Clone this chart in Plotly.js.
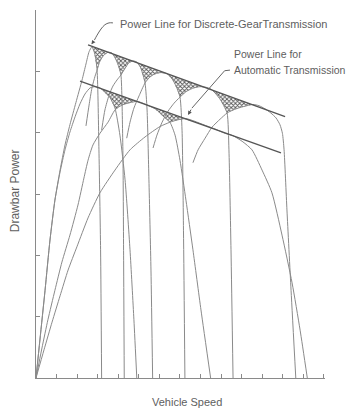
<!DOCTYPE html>
<html><head><meta charset="utf-8">
<script src="https://cdn.plot.ly/plotly-3.0.1.min.js"></script>
<style>html,body{margin:0;padding:0;background:#fff}#chart{width:351px;height:411px}</style>
</head><body><div id="chart"></div>
<script>
// Units: x = vehicle speed (axis tick units), y = drawbar power (axis tick units)
const discreteLineX = [2.53, 12.11];
const discreteLineY = [5.43, 4.26];
const autoLineX = [2.14, 11.91];
const autoLineY = [4.84, 3.67];

// discrete-gear transmission, gears 1..6
const g1X = [0, 0.19, 0.44, 0.68, 0.92, 1.17, 1.41, 1.65, 1.94, 2.24, 2.43, 2.58, 2.72, 2.87, 2.97, 3.06, 3.14, 3.19];
const g1Y = [0, 0.62, 1.43, 2.25, 2.90, 3.39, 3.80, 4.13, 4.49, 4.86, 5.12, 5.32, 5.40, 5.27, 5.02, 3.72, 2.09, 0];
const g2X = [2.43, 2.58, 2.72, 2.87, 2.97, 3.11, 3.31, 3.50, 3.69, 3.89, 4.03, 4.13, 4.18, 4.23, 4.26, 4.29];
const g2Y = [4.11, 4.45, 4.73, 4.92, 5.02, 5.17, 5.27, 5.31, 5.30, 5.19, 5.07, 4.94, 4.53, 3.55, 1.92, 0];
const g3X = [3.19, 3.35, 3.55, 3.74, 3.94, 4.13, 4.33, 4.52, 4.72, 4.91, 5.10, 5.30, 5.40, 5.49, 5.59, 5.67];
const g3Y = [4.04, 4.37, 4.61, 4.76, 4.86, 4.94, 5.05, 5.14, 5.17, 5.15, 5.05, 4.81, 4.37, 3.23, 1.76, 0];
const g4X = [4.41, 4.57, 4.76, 5.01, 5.30, 5.54, 5.79, 6.08, 6.37, 6.61, 6.81, 7.00, 7.10, 7.17, 7.24];
const g4Y = [3.91, 4.17, 4.40, 4.60, 4.81, 4.91, 4.96, 4.98, 4.96, 4.88, 4.76, 4.58, 4.04, 2.41, 0];
const g5X = [5.69, 5.88, 6.13, 6.42, 6.71, 7.00, 7.34, 7.68, 7.97, 8.26, 8.51, 8.80, 9.04, 9.29, 9.38, 9.48, 9.58];
const g5Y = [3.75, 3.96, 4.17, 4.35, 4.48, 4.58, 4.68, 4.73, 4.75, 4.74, 4.71, 4.61, 4.50, 4.32, 3.72, 2.09, 0];
const g6X = [7.63, 7.88, 8.22, 8.56, 8.95, 9.29, 9.58, 9.92, 10.26, 10.55, 10.84, 11.13, 11.42, 11.67, 11.86, 11.98, 12.06, 12.20, 12.40, 12.63];
const g6Y = [3.51, 3.72, 3.91, 4.09, 4.22, 4.32, 4.37, 4.41, 4.44, 4.46, 4.44, 4.39, 4.32, 4.24, 4.13, 3.99, 3.72, 2.74, 1.43, 0];

// automatic transmission, ranges 1..3
const a1X = [0, 0.19, 0.44, 0.68, 0.92, 1.17, 1.41, 1.65, 1.90, 2.14, 2.38, 2.63, 2.87, 3.11, 3.35, 3.60, 3.84, 4.08, 4.33, 4.57, 4.76, 4.90];
const a1Y = [0, 0.62, 1.43, 2.25, 2.90, 3.36, 3.72, 4.01, 4.26, 4.47, 4.63, 4.73, 4.75, 4.73, 4.66, 4.57, 4.40, 3.96, 3.23, 2.09, 0.95, 0];
const a2X = [0, 0.29, 0.58, 0.92, 1.26, 1.65, 2.04, 2.33, 2.53, 2.77, 3.11, 3.50, 3.84, 4.18, 4.57, 4.91, 5.20, 5.54, 5.88, 6.17, 6.51, 6.76, 7.00, 7.29, 7.63, 8.02, 8.49];
const a2Y = [0, 0.49, 0.95, 1.43, 1.89, 2.33, 2.82, 3.26, 3.55, 3.80, 3.99, 4.17, 4.37, 4.45, 4.49, 4.51, 4.48, 4.43, 4.37, 4.27, 4.17, 3.96, 3.55, 2.90, 2.09, 1.11, 0];
const a3X = [0, 0.39, 0.78, 1.17, 1.56, 1.99, 2.53, 3.11, 3.84, 4.57, 5.30, 6.03, 6.51, 6.90, 7.29, 7.68, 8.22, 8.70, 9.19, 9.58, 10.06, 10.50, 10.99, 11.47, 11.96, 12.45, 12.84, 13.19];
const a3Y = [0, 0.46, 0.91, 1.34, 1.76, 2.14, 2.61, 3.02, 3.39, 3.72, 3.93, 4.10, 4.17, 4.21, 4.23, 4.19, 4.12, 4.06, 3.99, 3.95, 3.85, 3.72, 3.39, 3.02, 2.33, 1.55, 0.78, 0];

// labels and leader lines
const label1 = "Power Line for Discrete-GearTransmission";
const label2a = "Power Line for";
const label2b = "Automatic Transmission";
const xTitle = "Vehicle Speed";
const yTitle = "Drawbar Power";
const leader1X = [3.74, 3.55, 3.35, 3.16, 2.97, 2.84];
const leader1Y = [5.79, 5.79, 5.76, 5.69, 5.59, 5.51];
const leader1Tip = [2.70, 5.44];
const leader2X = [9.43, 9.17, 7.58];
const leader2Y = [5.02, 5.01, 4.40];
const leader2Tip = [7.39, 4.29];

const discrete = [[g1X,g1Y],[g2X,g2Y],[g3X,g3Y],[g4X,g4Y],[g5X,g5Y],[g6X,g6Y]];
const automatic = [[a1X,a1Y],[a2X,a2Y],[a3X,a3Y]];

function lineAt(LX, LY, x){ return LY[0] + (LY[1]-LY[0])*(x-LX[0])/(LX[1]-LX[0]); }
function curveAt(cx, cy, x){
  if (x < cx[0] || x > cx[cx.length-1]) return -Infinity;
  for (let i=0;i<cx.length-1;i++){
    if (x>=cx[i] && x<=cx[i+1]){
      const t = cx[i+1]===cx[i] ? 0 : (x-cx[i])/(cx[i+1]-cx[i]);
      return cy[i] + t*(cy[i+1]-cy[i]);
    }
  }
  return -Infinity;
}
function peakX(c, LX, LY){
  let best=-Infinity, bx=c[0][0];
  for (let i=0;i<c[0].length;i++){
    const d = c[1][i]-lineAt(LX,LY,c[0][i]);
    if (d>best){best=d;bx=c[0][i];}
  }
  return Math.max(bx, LX[0]);
}
function hatch(cA, cB, LX, LY){
  const x0 = peakX(cA,LX,LY), x1 = peakX(cB,LX,LY);
  const n = 80, top=[], bot=[];
  for (let i=0;i<=n;i++){
    const x = x0 + (x1-x0)*i/n;
    const t = lineAt(LX,LY,x);
    let e = Math.max(curveAt(cA[0],cA[1],x), curveAt(cB[0],cB[1],x));
    if (e>t) e=t;
    top.push([x,t]); bot.push([x,e]);
  }
  const pts = top.concat(bot.reverse());
  return {x: pts.map(p=>p[0]), y: pts.map(p=>p[1]), type:'scatter', mode:'lines',
    fill:'toself', fillcolor:'rgba(0,0,0,0)', line:{width:0, color:'rgba(0,0,0,0)'},
    fillpattern:{shape:'x', size:3, solidity:0.5, fgcolor:'#555', bgcolor:'rgba(255,255,255,0)'},
    hoverinfo:'skip'};
}

const traces = [];
for (let k=0;k<discrete.length-1;k++) traces.push(hatch(discrete[k],discrete[k+1],discreteLineX,discreteLineY));
for (let k=0;k<automatic.length-1;k++) traces.push(hatch(automatic[k],automatic[k+1],autoLineX,autoLineY));
const curveStyle = {color:'#8a8a8a', width:1, shape:'spline', smoothing:0.6};
discrete.concat(automatic).forEach(c=>traces.push({x:c[0], y:c[1], type:'scatter', mode:'lines', line:curveStyle, hoverinfo:'skip'}));
traces.push({x:discreteLineX, y:discreteLineY, type:'scatter', mode:'lines', line:{color:'#555', width:1.3}});
traces.push({x:autoLineX, y:autoLineY, type:'scatter', mode:'lines', line:{color:'#555', width:1.3}});
traces.push({x:leader1X, y:leader1Y, type:'scatter', mode:'lines', line:{color:'#666', width:1, shape:'spline'}});
traces.push({x:leader2X, y:leader2Y, type:'scatter', mode:'lines', line:{color:'#666', width:1}});

const fontFam = "'Liberation Sans', Arial, sans-serif";
const tcol = '#5e5e5e';
const layout = {
  width:351, height:411,
  margin:{l:36, r:26, t:10, b:33, pad:0},
  paper_bgcolor:'#fff', plot_bgcolor:'#fff',
  showlegend:false,
  font:{family:fontFam, color:tcol, size:11},
  xaxis:{range:[0,14.05], showgrid:false, zeroline:false, showline:true, linecolor:'#8a8a8a', linewidth:1,
    ticks:'inside', ticklen:4, tickcolor:'#8a8a8a', tick0:0, dtick:1, showticklabels:false, fixedrange:true},
  yaxis:{range:[0,6], showgrid:false, zeroline:false, showline:true, linecolor:'#8a8a8a', linewidth:1,
    ticks:'inside', ticklen:4, tickcolor:'#8a8a8a', tick0:0, dtick:1, showticklabels:false, fixedrange:true},
  annotations:[
    {text:label1, x:3.99, y:5.77, xref:'x', yref:'y', xanchor:'left', yanchor:'middle', showarrow:false, font:{size:11, color:tcol}},
    {text:label2a, x:9.55, y:5.29, xref:'x', yref:'y', xanchor:'left', yanchor:'middle', showarrow:false, font:{size:10.5, color:tcol}},
    {text:label2b, x:9.55, y:5.02, xref:'x', yref:'y', xanchor:'left', yanchor:'middle', showarrow:false, font:{size:10.5, color:tcol}},
    {text:'', x:leader1Tip[0], y:leader1Tip[1], ax:leader1X[leader1X.length-1], ay:leader1Y[leader1Y.length-1], axref:'x', ayref:'y', xref:'x', yref:'y', showarrow:true, arrowhead:2, arrowsize:0.8, arrowwidth:1, arrowcolor:'#555'},
    {text:'', x:leader2Tip[0], y:leader2Tip[1], ax:leader2X[leader2X.length-1], ay:leader2Y[leader2Y.length-1], axref:'x', ayref:'y', xref:'x', yref:'y', showarrow:true, arrowhead:2, arrowsize:0.8, arrowwidth:1, arrowcolor:'#555'},
    {text:yTitle, xref:'paper', yref:'paper', x:-0.073, y:0.51, textangle:-90, showarrow:false, xanchor:'center', yanchor:'middle', font:{size:12, color:tcol}},
    {text:xTitle, xref:'paper', yref:'paper', x:0.524, y:-0.064, showarrow:false, xanchor:'center', yanchor:'middle', font:{size:11, color:tcol}}
  ]
};
Plotly.newPlot('chart', traces, layout, {displayModeBar:false, staticPlot:true});
</script></body></html>
